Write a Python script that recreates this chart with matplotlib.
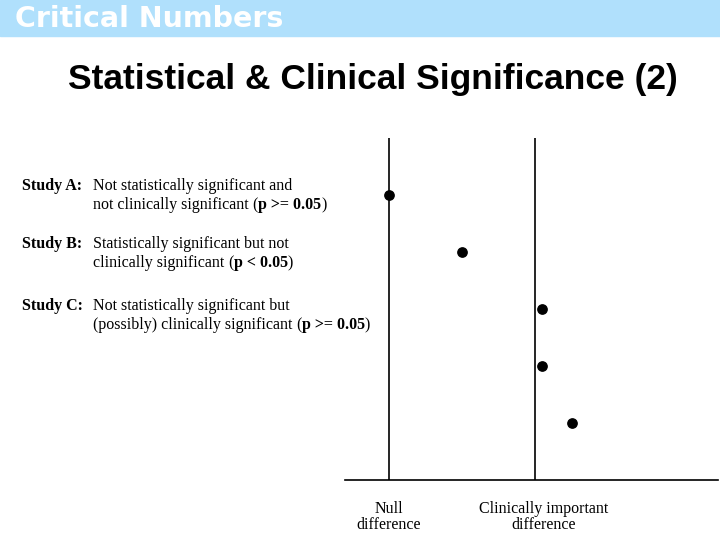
import matplotlib.pyplot as plt
from matplotlib.patches import Rectangle
from matplotlib.transforms import ScaledTranslation

# effect of each study, in units where null = 0 and clinically important = 1
effect = [0.0, 0.5, 1.05, 1.05, 1.25]
rank = [1, 2, 3, 4, 5]
ref_pos = [0, 1]
ref_labels = ['Null\ndifference', 'Clinically important\ndifference']

study_names = ['Study A:', 'Study B:', 'Study C:']
line1 = ['Not statistically significant and',
         'Statistically significant but not',
         'Not statistically significant but']
line2 = ['not clinically significant',
         'clinically significant',
         '(possibly) clinically significant']
pvals = ['p >= 0.05', 'p < 0.05', 'p >= 0.05']

fig = plt.figure(figsize=(7.2, 5.4), dpi=100)

# header band
fig.patches.append(Rectangle((0, 1 - 36 / 540), 1, 36 / 540, transform=fig.transFigure,
                             color='#b0e0fc', zorder=0))
fig.text(15 / 720, 1 - 19 / 540, 'Critical Numbers', color='white', fontsize=20.5,
         fontweight='heavy', family='DejaVu Sans', va='center', ha='left')

fig.text(373 / 720, 1 - 79 / 540, 'Statistical & Clinical Significance (2)',
         fontsize=25.5, fontweight='bold', family='Liberation Sans', ha='center', va='center')

ax = fig.add_axes([345 / 720, 1 - 480 / 540, 373 / 720, 342 / 540])
ax.scatter(effect, rank, s=45, color='black', zorder=3)
for p in ref_pos:
    ax.axvline(p, color='black', lw=1.2)
ax.set_xlim(-0.30, 2.25)
ax.set_ylim(6, 0)
for s in ['top', 'right', 'left']:
    ax.spines[s].set_visible(False)
ax.spines['bottom'].set_linewidth(1.2)
ax.set_yticks([])
ax.set_xticks(ref_pos)
ax.set_xticklabels(ref_labels, family='Liberation Serif', fontsize=11.5, linespacing=1.0)
ax.tick_params(axis='x', length=0, pad=15)
# second label sits a little right of its line
lab = ax.get_xticklabels()[1]
lab.set_transform(lab.get_transform() + ScaledTranslation(8 / 100, 0, fig.dpi_scale_trans))

# description text at left, serif with bold parts
serif = dict(family='Liberation Serif', fontsize=11.5, va='baseline')
renderer = fig.canvas.get_renderer()


def after(prev, text, gap=0, **kw):
    x = (prev.get_window_extent(renderer).x1 + gap) / fig.bbox.width
    return fig.text(x, prev.get_position()[1], text, **{**serif, **kw})


bases = [190, 248, 310]
for i in range(3):
    y1 = 1 - bases[i] / 540
    y2 = 1 - (bases[i] + 19) / 540
    fig.text(22 / 720, y1, study_names[i], fontweight='bold', **serif)
    fig.text(93 / 720, y1, line1[i], **serif)
    t = fig.text(93 / 720, y2, line2[i], **serif)
    t = after(t, '(', gap=4)
    t = after(t, pvals[i], gap=0.5, fontweight='bold')
    after(t, ')', gap=-0.5)

fig.savefig('out.png', dpi=100)
